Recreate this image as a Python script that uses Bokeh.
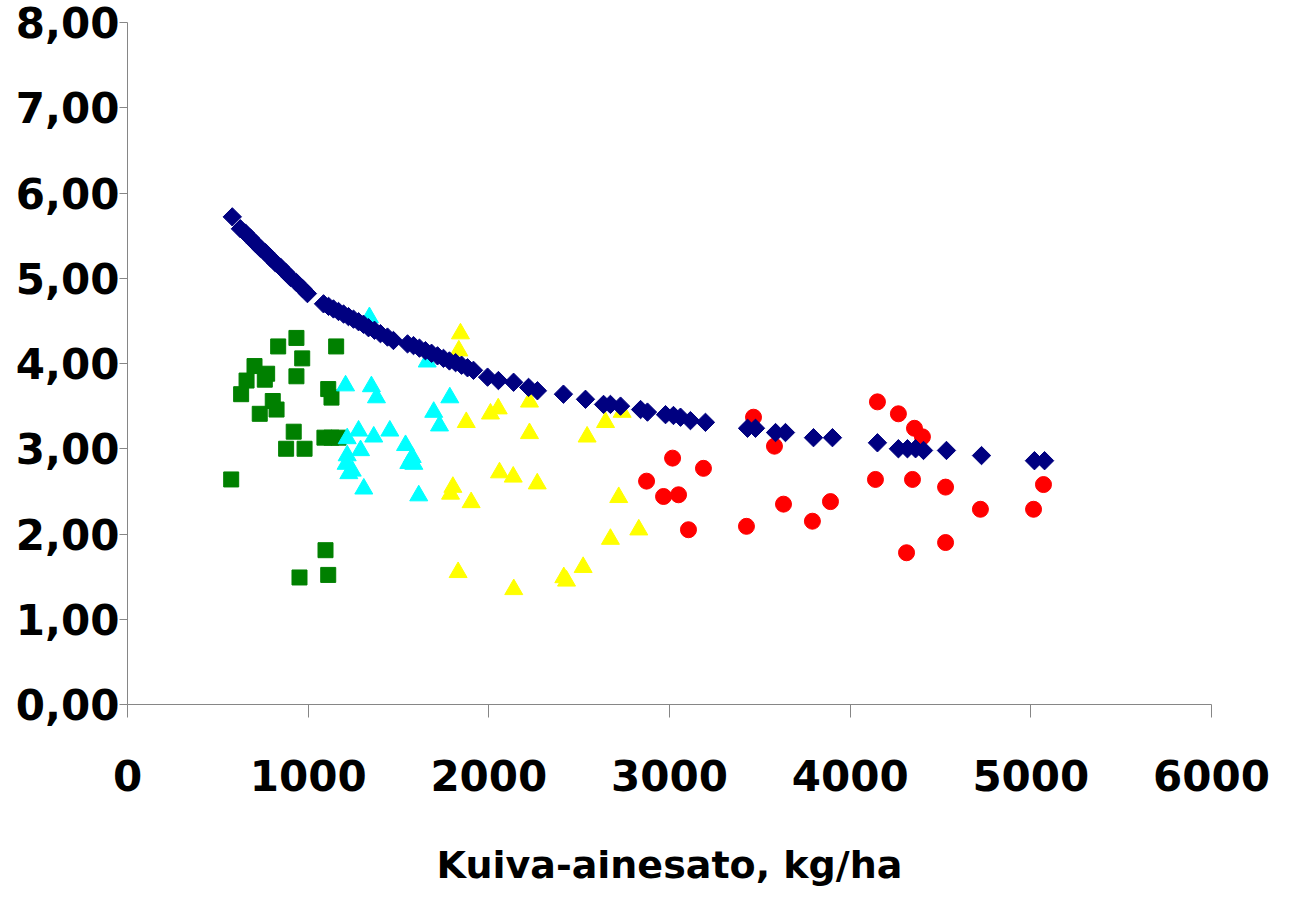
from bokeh.plotting import figure
from bokeh.models import FixedTicker, Range1d
from bokeh.embed import file_html
from bokeh.resources import INLINE
import math

# ---- data ----
navy_x = [580, 625, 653, 681, 708, 736, 764, 791, 819, 847, 875, 902, 935, 969, 996,
          1085, 1113, 1140, 1168, 1196, 1223, 1251, 1279, 1306, 1334, 1367, 1400, 1439, 1472,
          1550, 1583, 1616, 1649, 1683, 1716, 1749, 1782, 1816, 1849, 1882, 1915,
          1993, 2053, 2137, 2220, 2269, 2413, 2535, 2635, 2673, 2729, 2840, 2878, 2978,
          3022, 3061, 3116, 3199, 3432, 3476, 3587, 3642, 3797, 3902, 4151, 4267, 4317,
          4362, 4406, 4533, 4727, 5020, 5076]
navy_y = [5.72, 5.58, 5.53, 5.47, 5.41, 5.35, 5.30, 5.24, 5.18, 5.13, 5.07, 5.01, 4.95, 4.88, 4.82,
          4.70, 4.67, 4.64, 4.61, 4.58, 4.55, 4.52, 4.49, 4.46, 4.42, 4.39, 4.35, 4.31, 4.27,
          4.23, 4.21, 4.18, 4.15, 4.12, 4.09, 4.06, 4.03, 4.01, 3.98, 3.95, 3.92,
          3.84, 3.80, 3.78, 3.72, 3.68, 3.64, 3.58, 3.52, 3.52, 3.50, 3.46, 3.43, 3.40,
          3.39, 3.37, 3.33, 3.31, 3.24, 3.24, 3.19, 3.19, 3.13, 3.13, 3.07, 3.00, 3.00,
          3.00, 2.98, 2.98, 2.92, 2.86, 2.86]

green_x = [834, 935, 967, 1155, 703, 773, 760, 659, 629, 935, 1111, 1129, 804, 825, 732,
           920, 1090, 1129, 1168, 878, 980, 574, 1096, 952, 1111]
green_y = [4.20, 4.30, 4.06, 4.20, 3.97, 3.88, 3.81, 3.80, 3.64, 3.85, 3.70, 3.60, 3.56, 3.46, 3.41,
           3.20, 3.13, 3.13, 3.13, 3.00, 3.00, 2.64, 1.81, 1.49, 1.52]

cyan_x = [1339, 1207, 1350, 1378, 1784, 1695, 1727, 1279, 1452, 1363, 1216, 1539, 1290, 1576,
          1216, 1557, 1585, 1210, 1244, 1225, 1308, 1612, 1659]
cyan_y = [4.54, 3.74, 3.73, 3.60, 3.60, 3.43, 3.27, 3.21, 3.21, 3.14, 3.12, 3.04, 2.98, 2.90,
          2.92, 2.83, 2.82, 2.82, 2.74, 2.71, 2.53, 2.45, 4.02]

yellow_x = [1843, 1834, 1875, 2009, 2052, 2225, 2225, 2544, 2646, 2738, 2059, 2135, 2268, 1801,
            1788, 1902, 2719, 2830, 2673, 2522, 2415, 2430, 2138, 1830]
yellow_y = [4.35, 4.15, 3.31, 3.41, 3.47, 3.55, 3.18, 3.14, 3.31, 3.43, 2.72, 2.67, 2.59, 2.55,
            2.47, 2.37, 2.43, 2.05, 1.94, 1.61, 1.49, 1.45, 1.35, 1.55]

red_x = [4151, 4267, 4356, 4400, 3465, 3581, 3017, 3188, 2873, 2967, 3050, 3105, 3426, 3631,
         3791, 3891, 4140, 4345, 4528, 4721, 5015, 5070, 4312, 4528]
red_y = [3.55, 3.41, 3.24, 3.14, 3.37, 3.03, 2.89, 2.77, 2.62, 2.44, 2.46, 2.05, 2.09, 2.35,
         2.15, 2.38, 2.64, 2.64, 2.55, 2.29, 2.29, 2.58, 1.78, 1.90]

x_ticks = [0, 1000, 2000, 3000, 4000, 5000, 6000]
x_tick_labels = ["0", "1000", "2000", "3000", "4000", "5000", "6000"]
y_ticks = [0, 1, 2, 3, 4, 5, 6, 7, 8]
y_tick_labels = ["0,00", "1,00", "2,00", "3,00", "4,00", "5,00", "6,00", "7,00", "8,00"]
x_title = "Kuiva-ainesato, kg/ha"

# ---- figure ----
p = figure(width=1282, height=890,
           x_range=Range1d(0, 6000), y_range=Range1d(0, 8),
           output_backend="svg", toolbar_location=None,
           min_border_left=127, min_border_top=22, min_border_right=71, min_border_bottom=186)
p.outline_line_color = None
p.grid.visible = False
p.background_fill_color = "white"
p.border_fill_color = "white"

FONT = "DejaVu Sans"
AX = "#868686"

p.xaxis.ticker = FixedTicker(ticks=x_ticks)
p.xaxis.major_label_overrides = {t: s for t, s in zip(x_ticks, x_tick_labels)}
p.yaxis.ticker = FixedTicker(ticks=y_ticks)
p.yaxis.major_label_overrides = {t: s for t, s in zip(y_ticks, y_tick_labels)}

for ax in (p.xaxis[0], p.yaxis[0]):
    ax.axis_line_color = AX
    ax.major_tick_line_color = AX
    ax.minor_tick_line_color = None
    ax.major_tick_in = 0
    ax.major_label_text_font = FONT
    ax.major_label_text_font_style = "bold"
    ax.major_label_text_font_size = "42px"
    ax.major_label_text_color = "black"

p.xaxis.major_tick_out = 13
p.xaxis.major_label_standoff = 42
p.yaxis.major_tick_out = 8
p.yaxis.major_label_standoff = 0

p.xaxis.axis_label = x_title
p.xaxis.axis_label_text_font = FONT
p.xaxis.axis_label_text_font_style = "bold"
p.xaxis.axis_label_text_font_size = "38px"
p.xaxis.axis_label_text_color = "black"
p.xaxis.axis_label_standoff = 49

# ---- marks ----
p.scatter(green_x, green_y, marker="square", size=15, color="#008000")
p.scatter(cyan_x, cyan_y, marker="triangle", size=18, color="#00FFFF")
p.scatter(yellow_x, yellow_y, marker="triangle", size=18, color="#FFFF00")
p.scatter(red_x, red_y, marker="circle", size=16, color="#FF0000")
p.scatter(navy_x, navy_y, marker="square", size=13, angle=math.pi / 4, color="#000080")

open("out.html", "w").write(file_html(p, INLINE))
